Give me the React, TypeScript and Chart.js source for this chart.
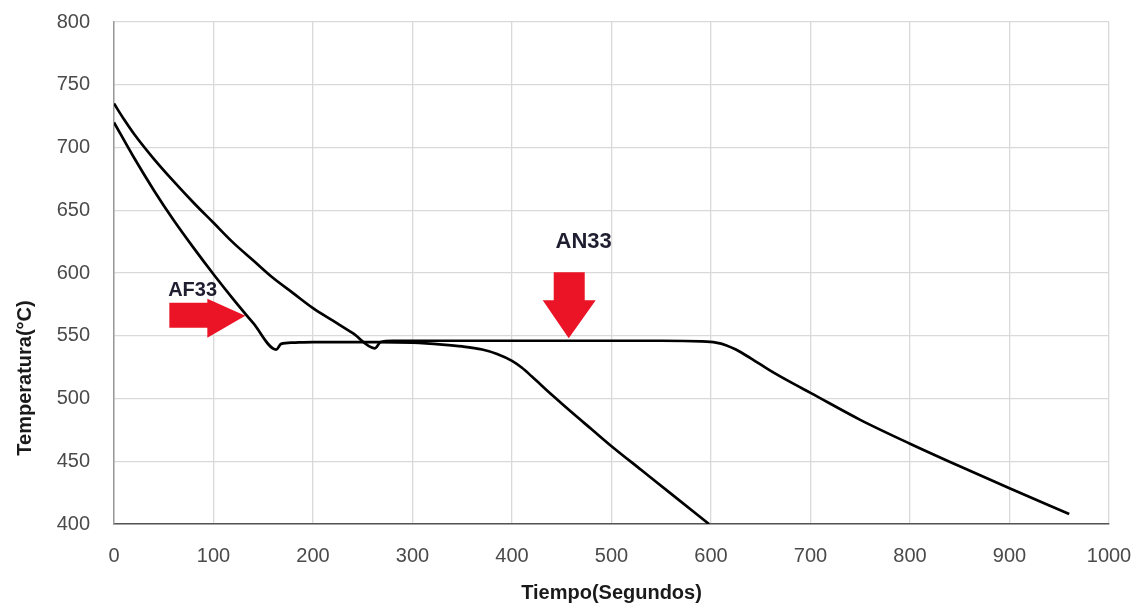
import React, { useEffect, useRef } from "react";
import { Chart, registerables } from "chart.js";

Chart.register(...registerables);

// AF33 cooling curve
const afTime = [0, 20, 40, 60, 80, 100, 120, 140, 163, 168, 180, 200, 230, 265, 300, 330, 350, 370, 385, 400, 410, 420, 440, 460, 480, 500, 530, 560, 598];
const afTemp = [720, 692, 666, 642, 620, 599, 579, 560, 539, 543.5, 544.5, 545, 545, 545, 544.5, 543, 541.5, 539, 535.5, 530, 524.5, 517.5, 503, 489, 475.5, 462, 443, 424, 400];

// AN33 cooling curve
const anTime = [0, 10, 20, 40, 60, 80, 100, 120, 140, 160, 180, 200, 220, 240, 262, 268, 280, 300, 350, 400, 450, 500, 550, 590, 605, 615, 625, 640, 660, 680, 700, 750, 800, 850, 900, 960];
const anTemp = [735, 722.5, 711, 691, 673, 656, 640, 624, 610, 596, 584, 572, 562, 552, 540, 545, 546, 546, 546, 546, 546, 546, 546, 545.5, 544.5, 542.5, 539, 532, 522, 513, 504.5, 483, 464, 446, 428.5, 408];

const xTicks = [0, 100, 200, 300, 400, 500, 600, 700, 800, 900, 1000];
const yTicks = [400, 450, 500, 550, 600, 650, 700, 750, 800];

const xTitle = "Tiempo(Segundos)";
const yTitle = "Temperatura(°C)";

// annotations anchored in data coordinates (arrow tip / text centre)
const labelAF = { text: "AF33", t: 79, v: 586 };
const labelAN = { text: "AN33", t: 472, v: 625 };
const arrowAF = { t: 132, v: 566, dir: "right" };
const arrowAN = { t: 455, v: 548, dir: "down" };

const RED = "#ea1426";
const FONT = "'Liberation Sans', Arial, sans-serif";

function toPoints(xs: number[], ys: number[]) {
  return xs.map((x, i) => ({ x, y: ys[i] }));
}

const annotationPlugin = {
  id: "annots",
  beforeDatasetsDraw(chart: any) {
    const { ctx, scales } = chart;
    const xs = scales.x;
    const ys = scales.y;
    ctx.save();
    ctx.fillStyle = "#1e1e30";
    ctx.textAlign = "center";
    ctx.textBaseline = "middle";
    ctx.font = `bold 20px ${FONT}`;
    ctx.fillText(labelAF.text, xs.getPixelForValue(labelAF.t), ys.getPixelForValue(labelAF.v));
    ctx.font = `bold 22px ${FONT}`;
    ctx.fillText(labelAN.text, xs.getPixelForValue(labelAN.t), ys.getPixelForValue(labelAN.v));

    // right arrow
    ctx.fillStyle = RED;
    let px = xs.getPixelForValue(arrowAF.t);
    let py = ys.getPixelForValue(arrowAF.v);
    ctx.beginPath();
    ctx.moveTo(px - 76, py - 13);
    ctx.lineTo(px - 38, py - 13);
    ctx.lineTo(px - 38, py - 17);
    ctx.lineTo(px, py);
    ctx.lineTo(px - 38, py + 22);
    ctx.lineTo(px - 38, py + 12);
    ctx.lineTo(px - 76, py + 12);
    ctx.closePath();
    ctx.fill();

    // down arrow
    px = xs.getPixelForValue(arrowAN.t) + 2;
    py = ys.getPixelForValue(arrowAN.v);
    ctx.beginPath();
    ctx.moveTo(px - 15, py - 66);
    ctx.lineTo(px + 16, py - 66);
    ctx.lineTo(px + 16, py - 38);
    ctx.lineTo(px + 27, py - 38);
    ctx.lineTo(px, py);
    ctx.lineTo(px - 26, py - 38);
    ctx.lineTo(px - 15, py - 38);
    ctx.closePath();
    ctx.fill();
    ctx.restore();
  },
  afterDraw(chart: any) {
    const { ctx } = chart;
    ctx.save();
    ctx.translate(25, 378);
    ctx.rotate(-Math.PI / 2);
    ctx.fillStyle = "#1a1a1a";
    ctx.font = `bold 20px ${FONT}`;
    ctx.textAlign = "center";
    ctx.textBaseline = "middle";
    ctx.fillText(yTitle, 0, 0);
    ctx.restore();
  },
};

function zeroPad(s: any) {
  s.paddingTop = 0;
  s.paddingBottom = 0;
  s.paddingLeft = 0;
  s.paddingRight = 0;
}

export default function App() {
  const ref = useRef<HTMLCanvasElement | null>(null);
  useEffect(() => {
    if (!ref.current) return;
    const lineStyle = {
      borderColor: "#000000",
      borderWidth: 2.7,
      pointRadius: 0,
      fill: false,
      cubicInterpolationMode: "monotone" as const,
    };
    const chart = new Chart(ref.current, {
      type: "line",
      data: {
        datasets: [
          { label: "AF33", data: toPoints(afTime, afTemp), ...lineStyle },
          { label: "AN33", data: toPoints(anTime, anTemp), ...lineStyle },
        ],
      },
      options: {
        animation: false,
        responsive: true,
        maintainAspectRatio: false,
        layout: { padding: { top: 22, right: 29, left: 0, bottom: 0 } },
        plugins: { legend: { display: false }, tooltip: { enabled: false } },
        scales: {
          x: {
            type: "linear",
            min: 0,
            max: 1000,
            afterBuildTicks: (s: any) => {
              s.ticks = xTicks.map((v) => ({ value: v }));
            },
            afterFit: (s: any) => {
              s.height = 81;
              zeroPad(s);
            },
            grid: { color: "#d9d9d9", lineWidth: 1.3, drawTicks: false },
            border: { color: "#555555", width: 1.5 },
            ticks: {
              padding: 20,
              color: "#4a4a4a",
              callback: (v: any) => String(v),
              font: { size: 20, family: FONT },
            },
            title: {
              display: true,
              text: xTitle,
              color: "#1a1a1a",
              font: { size: 20, weight: "bold", family: FONT },
              padding: { top: 4, bottom: 0 },
            },
          },
          y: {
            type: "linear",
            min: 400,
            max: 800,
            afterBuildTicks: (s: any) => {
              s.ticks = yTicks.map((v) => ({ value: v }));
            },
            afterFit: (s: any) => {
              s.width = 114;
              zeroPad(s);
            },
            grid: { color: "#d9d9d9", lineWidth: 1.3, drawTicks: false },
            border: { color: "#9a9a9a", width: 1.5 },
            ticks: {
              padding: 24,
              color: "#4a4a4a",
              callback: (v: any) => String(v),
              font: { size: 20, family: FONT },
            },
          },
        },
      },
      plugins: [annotationPlugin],
    });
    return () => chart.destroy();
  }, []);
  return (
    <div style={{ position: "fixed", left: 0, top: 0, width: 1138, height: 605, background: "#ffffff" }}>
      <canvas ref={ref} />
    </div>
  );
}
